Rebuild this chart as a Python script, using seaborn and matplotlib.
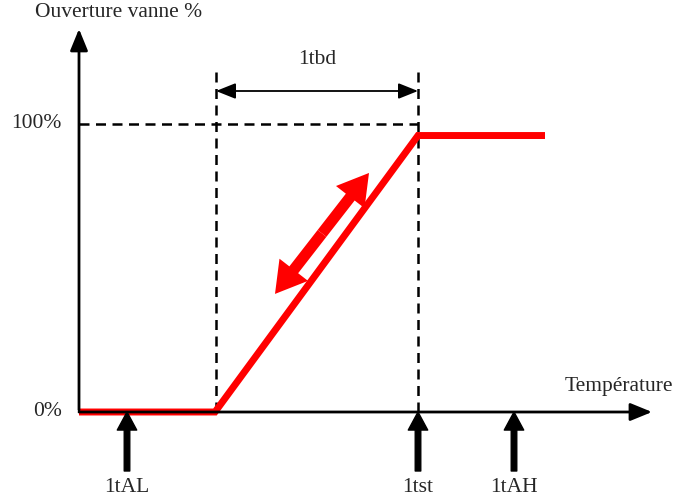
"""Valve opening vs temperature schematic (1tbd band)."""
import matplotlib
matplotlib.use("Agg")
import matplotlib.pyplot as plt
import pandas as pd
import seaborn as sns

sns.set_theme(style="white")
plt.rcParams["font.family"] = ["Liberation Serif", "DejaVu Serif"]

# curve breakpoints (temperature in arbitrary units, opening in %)
curve_temp = [0, 136, 339, 466]
curve_open = [0, 0, 96, 96]

# band limits for 1tbd
tbd_start = 137
tbd_end = 339

# threshold markers under the temperature axis
marker_labels = ["1tAL", "1tst", "1tAH"]
marker_temp = [48, 339, 435]

# red "adjust" arrow ends
adj_temp = [196, 290]
adj_open = [41, 83]

# axis extents
x_axis_end = 573
y_axis_end = 133
full_open = 100

PX = 2.88  # pixels per % on the vertical axis
FS = 15.5


def py(pix):
    return (412 - pix) / PX


fig = plt.figure(figsize=(6.89, 4.99), dpi=100)
ax = fig.add_axes([0, 0, 1, 1])
ax.set_xlim(-79, 610)
ax.set_ylim(py(499), py(0))
ax.axis("off")

# axes with arrows
ax.annotate("", xy=(0, y_axis_end), xytext=(0, py(410)),
            arrowprops=dict(arrowstyle="-|>,head_length=1.1,head_width=0.45",
                            color="black", lw=2, shrinkA=0, shrinkB=0))
ax.annotate("", xy=(x_axis_end, 0), xytext=(0, 0),
            arrowprops=dict(arrowstyle="-|>,head_length=1.1,head_width=0.45",
                            color="black", lw=2, shrinkA=0, shrinkB=0))

# dashed guides
dash = (0, (4, 2.6))
ax.plot([0, tbd_end], [full_open, full_open], color="black", lw=1.8, ls=dash)
for xv in [tbd_start, tbd_end]:
    ax.plot([xv, xv], [0, py(68)], color="black", lw=1.8, ls=dash)

# 1tbd double arrow
ax.annotate("", xy=(tbd_end, py(91)), xytext=(tbd_start, py(91)),
            arrowprops=dict(arrowstyle="<|-|>,head_length=1.0,head_width=0.4",
                            color="black", lw=1.3, shrinkA=0, shrinkB=0))
ax.text((tbd_start + tbd_end) / 2, py(60), "1tbd", ha="center", va="center",
        fontsize=FS)

# red response curve
df = pd.DataFrame({"temp": curve_temp, "open": curve_open})
sns.lineplot(data=df, x="temp", y="open", ax=ax, color="#ff0000", lw=5,
             solid_joinstyle="miter", solid_capstyle="butt", legend=False)

# red double arrow parallel to the ramp (two heads from the middle)
mid = ((adj_temp[0] + adj_temp[1]) / 2, (adj_open[0] + adj_open[1]) / 2)
for tx, to in zip(adj_temp, adj_open):
    ax.annotate("", xy=(tx, to), xytext=mid,
                arrowprops=dict(arrowstyle="simple,head_length=22,head_width=26,tail_width=8",
                                color="#ff0000", lw=0, shrinkA=0, shrinkB=0,
                                mutation_scale=1))

# threshold arrows and labels
for lab, xv in zip(marker_labels, marker_temp):
    ax.annotate("", xy=(xv, 0), xytext=(xv, py(471)),
                arrowprops=dict(width=4, headwidth=14, headlength=13,
                                color="black", shrink=0))
    ax.text(xv, py(487), lab, ha="center", va="center", fontsize=FS)

# labels
ax.text(35 - 79, py(13), "Ouverture vanne %", ha="left", va="center",
        fontsize=FS)
ax.text(565 - 79, py(387), "Température", ha="left", va="center",
        fontsize=FS)
ax.text(62 - 79, full_open, "100%", ha="right", va="center", fontsize=FS)
ax.text(62 - 79, 0, "0%", ha="right", va="center", fontsize=FS)

fig.savefig("out.png", dpi=100)
